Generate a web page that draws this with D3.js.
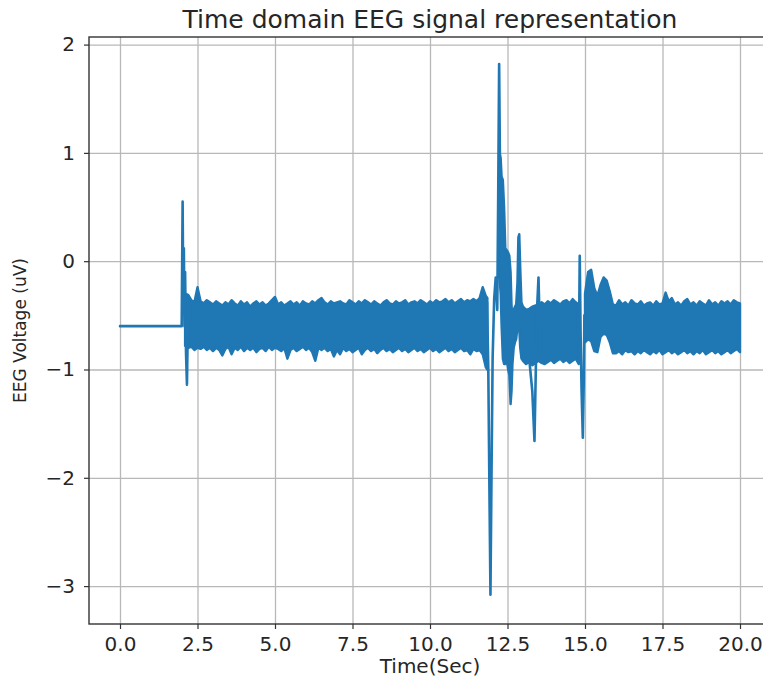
<!DOCTYPE html>
<html>
<head>
<meta charset="utf-8">
<script src="https://cdn.jsdelivr.net/npm/d3@7"></script>
<style>
  html, body { margin: 0; padding: 0; background: #fff; }
  svg { display: block; }
  text { font-family: "DejaVu Sans", sans-serif; fill: #262626; }
</style>
</head>
<body>
<svg id="chart" width="763" height="680"></svg>
<script>
// Axis ticks
const xTicks = [0, 2.5, 5, 7.5, 10, 12.5, 15, 17.5, 20];
const yTicks = [-3, -2, -1, 0, 1, 2];

// Dense oscillation: upper and lower envelope over time (uV); null ends a segment
const bandTime = [
  2.1, 2.2, 2.3, 2.4, 2.5, 2.6, 2.7, 2.8, 2.9, 3.0,
  3.1, 3.2, 3.3, 3.4, 3.5, 3.6, 3.7, 3.8, 3.9, 4.0,
  4.1, 4.2, 4.3, 4.4, 4.5, 4.6, 4.7, 4.8, 4.9, 5.0,
  5.1, 5.2, 5.3, 5.4, 5.5, 5.6, 5.7, 5.8, 5.9, 6.0,
  6.1, 6.2, 6.3, 6.4, 6.5, 6.6, 6.7, 6.8, 6.9, 7.0,
  7.1, 7.2, 7.3, 7.4, 7.5, 7.6, 7.7, 7.8, 7.9, 8.0,
  8.1, 8.2, 8.3, 8.4, 8.5, 8.6, 8.7, 8.8, 8.9, 9.0,
  9.1, 9.2, 9.3, 9.4, 9.5, 9.6, 9.7, 9.8, 9.9, 10.0,
  10.1, 10.2, 10.3, 10.4, 10.5, 10.6, 10.7, 10.8, 10.9, 11.0,
  11.1, 11.2, 11.3, 11.4, 11.5, 11.6, 11.7, 11.8, 11.85, 11.9,
  12.21, 12.24, 12.28, 12.31, 12.35, 12.39, 12.43, 12.48, 12.52, 12.56,
  12.60, 12.63, 12.66, 12.70, 12.74, 12.78, 12.82, 12.85, 12.88, 12.91,
  12.95, 13.0, 13.1, 13.2, 13.3, 13.5, 13.6,
  13.7, 13.8, 13.9, 14.0, 14.1, 14.2, 14.3, 14.4, 14.5, 14.6,
  14.7, 14.8, 14.85,
  15.0, 15.1, 15.2, 15.3, 15.4, 15.5, 15.6, 15.7, 15.8, 15.9,
  16.0, 16.1, 16.2, 16.3, 16.4, 16.5, 16.6, 16.7, 16.8, 16.9,
  17.0, 17.1, 17.2, 17.3, 17.4, 17.5, 17.6, 17.7, 17.8, 17.9,
  18.0, 18.1, 18.2, 18.3, 18.4, 18.5, 18.6, 18.7, 18.8, 18.9,
  19.0, 19.1, 19.2, 19.3, 19.4, 19.5, 19.6, 19.7, 19.8, 19.9,
  20.0
];
const bandUpper = [
  -0.30, -0.31, -0.36, -0.38, -0.24, -0.37, -0.39, -0.36, -0.38, -0.40,
  -0.37, -0.39, -0.41, -0.38, -0.40, -0.36, -0.39, -0.41, -0.37, -0.40,
  -0.38, -0.42, -0.39, -0.37, -0.40, -0.38, -0.41, -0.39, -0.36, -0.33,
  -0.40, -0.38, -0.41, -0.39, -0.37, -0.40, -0.38, -0.41, -0.37, -0.39,
  -0.40, -0.37, -0.39, -0.36, -0.34, -0.38, -0.40, -0.37, -0.39, -0.38,
  -0.37, -0.39, -0.40, -0.36, -0.38, -0.40, -0.37, -0.39, -0.36, -0.38,
  -0.40, -0.37, -0.39, -0.41, -0.38, -0.36, -0.39, -0.40, -0.37, -0.39,
  -0.38, -0.36, -0.40, -0.38, -0.37, -0.39, -0.36, -0.38, -0.40, -0.37,
  -0.39, -0.36, -0.38, -0.37, -0.35, -0.38, -0.36, -0.39, -0.37, -0.35,
  -0.38, -0.36, -0.37, -0.35, -0.37, -0.34, -0.24, -0.32, -0.34, null,
  0.00, 1.00, 0.95, 0.78, 0.75, 0.50, 0.12, 0.10, 0.08, 0.05,
  -0.10, -0.40, -0.55, -0.45, -0.42, -0.40, -0.20, 0.22, 0.25, -0.05,
  -0.38, -0.42, -0.45, -0.44, -0.42, -0.40, -0.38,
  -0.40, -0.37, -0.39, -0.36, -0.38, -0.40, -0.37, -0.36, -0.39, -0.35,
  -0.38, -0.40, null,
  -0.30, -0.10, -0.08, -0.25, -0.32, -0.22, -0.15, -0.18, -0.28, -0.40,
  -0.41, -0.36, -0.40, -0.38, -0.41, -0.36, -0.39, -0.40, -0.37, -0.41,
  -0.39, -0.38, -0.41, -0.37, -0.40, -0.39, -0.29, -0.37, -0.34, -0.40,
  -0.38, -0.41, -0.37, -0.35, -0.40, -0.38, -0.41, -0.37, -0.39, -0.41,
  -0.36, -0.40, -0.38, -0.41, -0.37, -0.39, -0.37, -0.40, -0.36, -0.38,
  -0.39
];
const bandLower = [
  -0.78, -0.80, -0.79, -0.82, -0.80, -0.81, -0.79, -0.82, -0.80, -0.83,
  -0.80, -0.82, -0.87, -0.81, -0.79, -0.86, -0.80, -0.82, -0.79, -0.83,
  -0.80, -0.82, -0.80, -0.84, -0.81, -0.80, -0.83, -0.79, -0.82, -0.80,
  -0.81, -0.83, -0.80, -0.90, -0.82, -0.80, -0.83, -0.81, -0.79, -0.82,
  -0.80, -0.84, -0.92, -0.80, -0.82, -0.80, -0.83, -0.81, -0.88, -0.82,
  -0.86, -0.80, -0.83, -0.81, -0.84, -0.82, -0.80, -0.86, -0.82, -0.80,
  -0.83, -0.81, -0.85, -0.82, -0.80, -0.83, -0.81, -0.84, -0.82, -0.80,
  -0.83, -0.81, -0.84, -0.82, -0.80, -0.83, -0.81, -0.84, -0.82, -0.80,
  -0.83, -0.81, -0.84, -0.82, -0.80, -0.83, -0.81, -0.84, -0.82, -0.80,
  -0.83, -0.82, -0.86, -0.81, -0.83, -0.82, -0.86, -0.98, -1.00, null,
  -0.15, -0.15, -0.30, -0.60, -0.90, -0.95, -0.95, -0.92, -1.00, -1.05,
  -1.32, -1.20, -0.95, -0.80, -0.75, -0.72, -0.62, -0.58, -0.62, -0.80,
  -0.90, -0.92, -0.95, -0.93, -0.96, -0.92, -0.94,
  -0.95, -0.93, -0.91, -0.94, -0.92, -0.90, -0.93, -0.91, -0.94, -0.92,
  -0.90, -0.95, null,
  -0.75, -0.72, -0.74, -0.83, -0.84, -0.70, -0.67, -0.68, -0.75, -0.85,
  -0.85, -0.83, -0.86, -0.82, -0.84, -0.83, -0.86, -0.83, -0.85, -0.82,
  -0.84, -0.86, -0.83, -0.85, -0.82, -0.86, -0.84, -0.82, -0.85, -0.83,
  -0.86, -0.84, -0.82, -0.85, -0.83, -0.86, -0.83, -0.85, -0.82, -0.86,
  -0.84, -0.82, -0.85, -0.83, -0.86, -0.84, -0.82, -0.85, -0.83, -0.81,
  -0.84
];

// Baseline, onset artefact and the sharp transients (uV); null breaks the trace
const traceTime = [
  0.00, 1.99, 2.02, 2.04, 2.06, 2.08, 2.10, 2.13, 2.16, 2.19, 2.22,
  null,
  11.84, 11.88, 11.91, 11.95, 11.98, 12.02, 12.07, 12.12, 12.17, 12.20,
  12.23, 12.26,
  null,
  13.20, 13.30, 13.37, 13.42, 13.46, 13.50, 13.53, 13.56,
  null,
  14.76, 14.80, 14.83, 14.86, 14.89, 14.93, 14.96, 14.98
];
const traceVolt = [
  -0.60, -0.60, 0.55, -0.30, 0.12, -0.60, -0.10, -0.85, -1.14, -0.55, -0.70,
  null,
  -0.38, -0.98, -1.90, -3.08, -2.10, -0.90, -0.35, -0.15, -0.45, 0.60,
  1.82, 0.80,
  null,
  -0.90, -1.20, -1.66, -0.90, -0.40, -0.15, -0.50, -0.85,
  null,
  -0.40, -0.90, 0.05, -0.70, -1.20, -1.63, -1.10, -0.50
];

const svg = d3.select("#chart");
const plotLeft = 89, plotRight = 771, plotTop = 37, plotBottom = 624;

const x = d3.scaleLinear().domain([-1, 21]).range([plotLeft, plotRight]);
const y = d3.scaleLinear().domain([-3.35, 2.07]).range([plotBottom, plotTop]);

svg.append("defs").append("clipPath").attr("id", "plot-clip")
  .append("rect").attr("x", plotLeft).attr("y", plotTop)
  .attr("width", plotRight - plotLeft).attr("height", plotBottom - plotTop);

// Grid
const grid = svg.append("g").attr("class", "grid");
grid.append("g").attr("transform", `translate(0,${plotBottom})`)
  .call(d3.axisBottom(x).tickValues(xTicks).tickSize(-(plotBottom - plotTop)).tickFormat(""))
  .call(g => g.select(".domain").remove());
grid.append("g").attr("transform", `translate(${plotLeft},0)`)
  .call(d3.axisLeft(y).tickValues(yTicks).tickSize(-(plotRight - plotLeft)).tickFormat(""))
  .call(g => g.select(".domain").remove());
grid.selectAll("line").attr("stroke", "#b8b8b8").attr("stroke-width", 1.3);

// Signal
const blue = "#1f77b4";
const plot = svg.append("g").attr("clip-path", "url(#plot-clip)");

const bandData = bandTime.map((t, i) => ({ t, u: bandUpper[i], l: bandLower[i] }));
const band = d3.area()
  .defined(d => d.u !== null && d.l !== null)
  .x(d => x(d.t)).y0(d => y(d.l)).y1(d => y(d.u));
plot.append("path").datum(bandData)
  .attr("d", band)
  .attr("fill", blue).attr("stroke", blue)
  .attr("stroke-width", 2.4).attr("stroke-linejoin", "round");

const traceData = traceTime.map((t, i) => ({ t, v: traceVolt[i] }));
const trace = d3.line()
  .defined(d => d.t !== null && d.v !== null)
  .x(d => x(d.t)).y(d => y(d.v));
plot.append("path").datum(traceData)
  .attr("d", trace)
  .attr("fill", "none").attr("stroke", blue)
  .attr("stroke-width", 2.6).attr("stroke-linejoin", "round").attr("stroke-linecap", "round");

// Axes
const xAxis = svg.append("g").attr("transform", `translate(0,${plotBottom})`)
  .call(d3.axisBottom(x).tickValues(xTicks).tickSize(5).tickPadding(8).tickFormat(d3.format(".1f")));
const yAxis = svg.append("g").attr("transform", `translate(${plotLeft},0)`)
  .call(d3.axisLeft(y).tickValues(yTicks).tickSize(5).tickPadding(9).tickFormat(d3.format("d")));
[xAxis, yAxis].forEach(a => {
  a.selectAll(".tick line").attr("stroke", "#333").attr("stroke-width", 1.2);
  a.selectAll(".tick text").style("font-family", "DejaVu Sans").style("font-size", "20px").attr("fill", "#262626");
  a.select(".domain").remove();
});

// Spines
svg.append("rect").attr("x", plotLeft).attr("y", plotTop)
  .attr("width", plotRight - plotLeft).attr("height", plotBottom - plotTop)
  .attr("fill", "none").attr("stroke", "#333").attr("stroke-width", 1.4);

// Labels
svg.append("text").attr("x", (plotLeft + plotRight) / 2).attr("y", 28)
  .attr("text-anchor", "middle").style("font-size", "25px")
  .text("Time domain EEG signal representation");
svg.append("text").attr("x", 430).attr("y", 673)
  .attr("text-anchor", "middle").style("font-size", "20px")
  .text("Time(Sec)");
svg.append("text").attr("transform", `translate(26,${(plotTop + plotBottom) / 2}) rotate(-90)`)
  .attr("text-anchor", "middle").style("font-size", "17px")
  .text("EEG Voltage (uV)");
</script>
</body>
</html>
